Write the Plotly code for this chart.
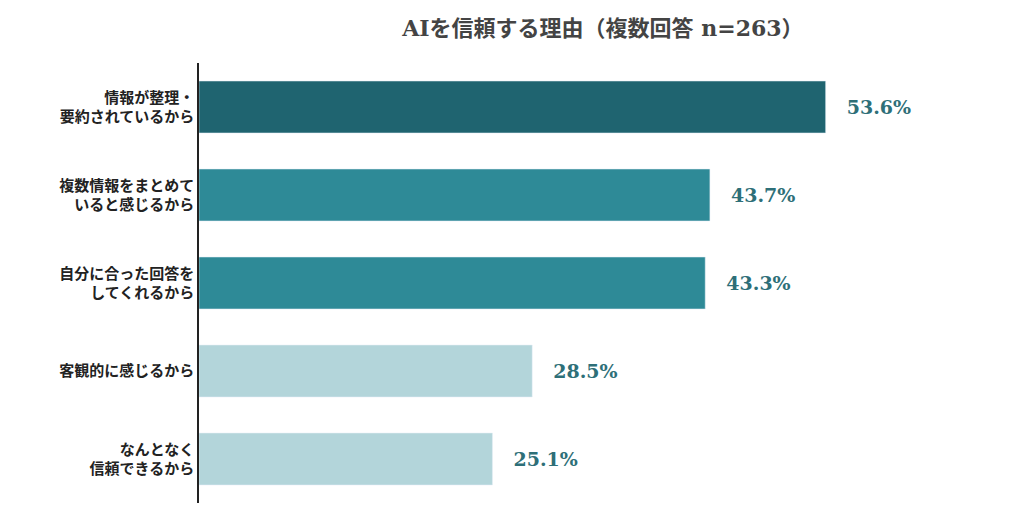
import plotly.graph_objects as go

categories = ["情報が整理・<br>要約されているから", "複数情報をまとめて<br>いると感じるから", "自分に合った回答を<br>してくれるから", "客観的に感じるから", "なんとなく<br>信頼できるから"]
values = [53.6, 43.7, 43.3, 28.5, 25.1]
colors = ["#1f6470", "#2e8a97", "#2e8a97", "#b3d5da", "#b3d5da"]

fig = go.Figure(go.Bar(
    x=values, y=categories, orientation="h", marker_color=colors, width=0.59,
    texttemplate="   <b>%{x:.1f}%</b>", textposition="outside", cliponaxis=False,
    textfont=dict(family="DejaVu Serif", size=19, color="#2e6f78"),
))
fig.update_layout(
    width=1024, height=505, plot_bgcolor="white", paper_bgcolor="white",
    margin=dict(l=191, r=31, t=55, b=10),
    title=dict(text="<b>AIを信頼する理由（複数回答 n=263）</b>", x=0.581, xanchor="center", y=0.975,
               font=dict(family="DejaVu Serif, Noto Sans CJK JP", size=22, color="#444444")),
    xaxis=dict(range=[0, 68.6], visible=False),
    yaxis=dict(autorange="reversed", showline=True, linecolor="#222", linewidth=1.5,
               ticks="", showgrid=False, tickprefix="<b>", ticksuffix="</b>",
               tickfont=dict(family="Noto Sans CJK JP", size=15, color="#222")),
    showlegend=False,
)
fig.write_html("out.html")
